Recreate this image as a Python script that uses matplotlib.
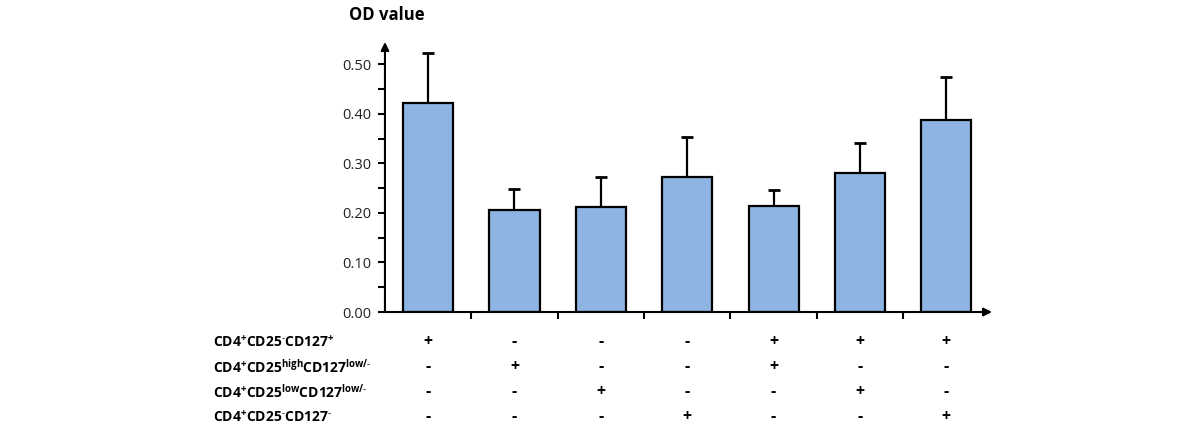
import numpy as np
import matplotlib.pyplot as plt
import matplotlib.transforms as mtransforms

plt.rcParams['font.family'] = ['Open Sans', 'DejaVu Sans']
plt.rcParams['mathtext.default'] = 'regular'

# data
od_mean = [0.421, 0.206, 0.212, 0.273, 0.214, 0.281, 0.387]
od_err = [0.102, 0.043, 0.061, 0.080, 0.032, 0.061, 0.088]

row_labels = ['CD4$^{+}$CD25$^{\u2010}$CD127$^{+}$',
              'CD4$^{+}$CD25$^{high}$CD127$^{low/\u2010}$',
              'CD4$^{+}$CD25$^{low}$CD127$^{low/\u2010}$',
              'CD4$^{+}$CD25$^{\u2010}$CD127$^{\u2010}$']
signs = [['+', '-', '-', '-', '+', '+', '+'],
         ['-', '+', '-', '-', '+', '-', '-'],
         ['-', '-', '+', '-', '-', '+', '-'],
         ['-', '-', '-', '+', '-', '-', '+']]

bar_color = '#8db4e2'

fig = plt.figure(figsize=(12, 4.3), dpi=100)
ax = fig.add_axes([0.3208, 0.2744, 0.5059, 0.6279])

x = np.arange(len(od_mean))
ax.bar(x, od_mean, width=0.58, color=bar_color, edgecolor='black', linewidth=1.6, zorder=2)
ax.errorbar(x, od_mean, yerr=[np.zeros(len(od_err)), od_err], fmt='none',
            ecolor='black', elinewidth=1.6, capsize=4, capthick=2, zorder=1)

ax.set_xlim(-0.5, 6.53)
ax.set_ylim(0, 0.545)

for s in ['top', 'right', 'left', 'bottom']:
    ax.spines[s].set_visible(False)

# axes with arrows
ax.annotate('', xy=(1.0, 0), xycoords='axes fraction', xytext=(0, 0),
            arrowprops=dict(arrowstyle='-|>', color='black', lw=1.5,
                            mutation_scale=12, shrinkA=0, shrinkB=0))
ax.annotate('', xy=(0, 1.0), xycoords='axes fraction', xytext=(0, 0),
            arrowprops=dict(arrowstyle='-|>', color='black', lw=1.5,
                            mutation_scale=12, shrinkA=0, shrinkB=0))

ax.set_yticks(np.arange(0, 0.51, 0.1))
ax.set_yticklabels(['%.2f' % v for v in np.arange(0, 0.51, 0.1)], fontsize=10.5, color='#222222')
ax.set_yticks(np.arange(0.05, 0.5, 0.1), minor=True)
ax.tick_params(axis='y', which='both', length=5, width=1.5, direction='out', pad=5)

ax.set_xticks(np.arange(0.5, 6, 1))
ax.set_xticklabels([])
ax.tick_params(axis='x', length=5, width=1.5, direction='out')

fig.text(0.322, 0.965, 'OD value', fontsize=12, fontweight='bold', ha='center', va='center')

# table of +/- under the bars
trans = mtransforms.blended_transform_factory(ax.transData, fig.transFigure)
row_y = [342, 367, 392, 417]
for i, lab in enumerate(row_labels):
    yf = 1 - row_y[i] / 430
    fig.text(0.1775, yf, lab, fontsize=10, fontweight='bold', ha='left', va='center')
    for j, sg in enumerate(signs[i]):
        ax.text(j, yf, sg, transform=trans, fontsize=11.5, fontweight='bold',
                ha='center', va='center', clip_on=False)

fig.savefig('out.png')
